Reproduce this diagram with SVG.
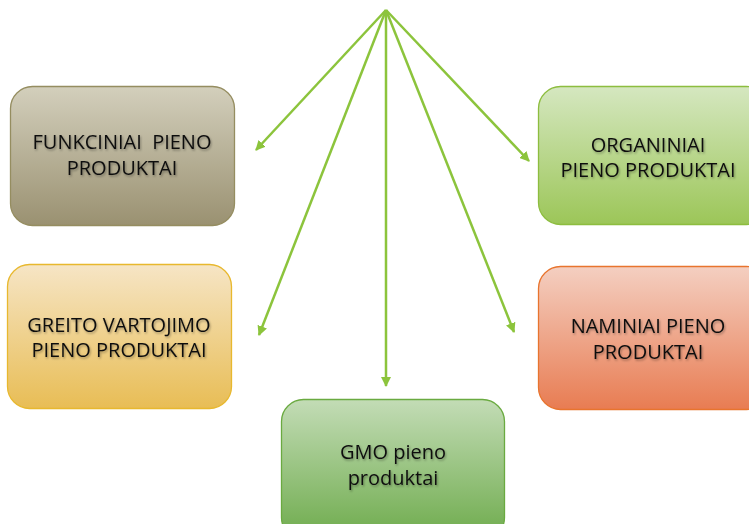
<svg xmlns="http://www.w3.org/2000/svg" width="749" height="524" viewBox="0 0 749 524">
<defs>
<linearGradient id="gOlive" x1="0" y1="0" x2="0" y2="1"><stop offset="0" stop-color="#d3cfbc"/><stop offset="1" stop-color="#9a9171"/></linearGradient>
<linearGradient id="gLime" x1="0" y1="0" x2="0" y2="1"><stop offset="0" stop-color="#d5e7c0"/><stop offset="1" stop-color="#9cc658"/></linearGradient>
<linearGradient id="gGold" x1="0" y1="0" x2="0" y2="1"><stop offset="0" stop-color="#f6e5c5"/><stop offset="1" stop-color="#e8bd55"/></linearGradient>
<linearGradient id="gOrange" x1="0" y1="0" x2="0" y2="1"><stop offset="0" stop-color="#f4cfc1"/><stop offset="1" stop-color="#e87c52"/></linearGradient>
<linearGradient id="gGreen" x1="0" y1="0" x2="0" y2="1"><stop offset="0" stop-color="#c3dcb6"/><stop offset="1" stop-color="#6eab4c"/></linearGradient>
<filter id="ts" x="-10%" y="-30%" width="120%" height="160%"><feDropShadow dx="1" dy="1.5" stdDeviation="0.8" flood-color="#000" flood-opacity="0.35"/></filter>
<marker id="ah" viewBox="0 0 10 10" refX="9" refY="5" markerWidth="4" markerHeight="4" orient="auto" markerUnits="strokeWidth"><path d="M0,0 L10,5 L0,10 Z" fill="#8cc43c"/></marker>
</defs>
<style>
.box{stroke-width:1.3}
.lbl{font-family:"Open Sans","Noto Sans",sans-serif;font-size:20px;fill:#111;text-anchor:middle;filter:url(#ts);white-space:pre}
.conn{stroke:#8cc43c;stroke-width:2.5;fill:none;marker-end:url(#ah)}
</style>
<g id="connectors">
<line class="conn" x1="386" y1="10" x2="256" y2="150"/>
<line class="conn" x1="386" y1="10" x2="529" y2="161"/>
<line class="conn" x1="386" y1="10" x2="259" y2="335"/>
<line class="conn" x1="386" y1="10" x2="514" y2="332"/>
<line class="conn" x1="386" y1="10" x2="386" y2="386"/>
</g>
<g id="funkciniai">
<rect class="box" x="10.5" y="86.5" width="224" height="139" rx="22" fill="url(#gOlive)" stroke="#958d60"/>
<text class="lbl" x="122" y="149" xml:space="preserve">FUNKCINIAI  PIENO</text>
<text class="lbl" x="122" y="175">PRODUKTAI</text>
</g>
<g id="organiniai">
<rect class="box" x="538.5" y="86.5" width="230" height="138" rx="22" fill="url(#gLime)" stroke="#8dbd3f"/>
<text class="lbl" x="648" y="152">ORGANINIAI</text>
<text class="lbl" x="648" y="177">PIENO PRODUKTAI</text>
</g>
<g id="greito">
<rect class="box" x="7.5" y="264.5" width="224" height="144" rx="22" fill="url(#gGold)" stroke="#e8b82e"/>
<text class="lbl" x="119" y="332">GREITO VARTOJIMO</text>
<text class="lbl" x="119" y="357">PIENO PRODUKTAI</text>
</g>
<g id="naminiai">
<rect class="box" x="538.5" y="266.5" width="230" height="143" rx="22" fill="url(#gOrange)" stroke="#e8742e"/>
<text class="lbl" x="648" y="333">NAMINIAI PIENO</text>
<text class="lbl" x="648" y="359">PRODUKTAI</text>
</g>
<g id="gmo">
<rect class="box" x="281.5" y="399.5" width="223" height="140" rx="22" fill="url(#gGreen)" stroke="#6aaa40"/>
<text class="lbl" x="393" y="459">GMO pieno</text>
<text class="lbl" x="393" y="485">produktai</text>
</g>
</svg>
